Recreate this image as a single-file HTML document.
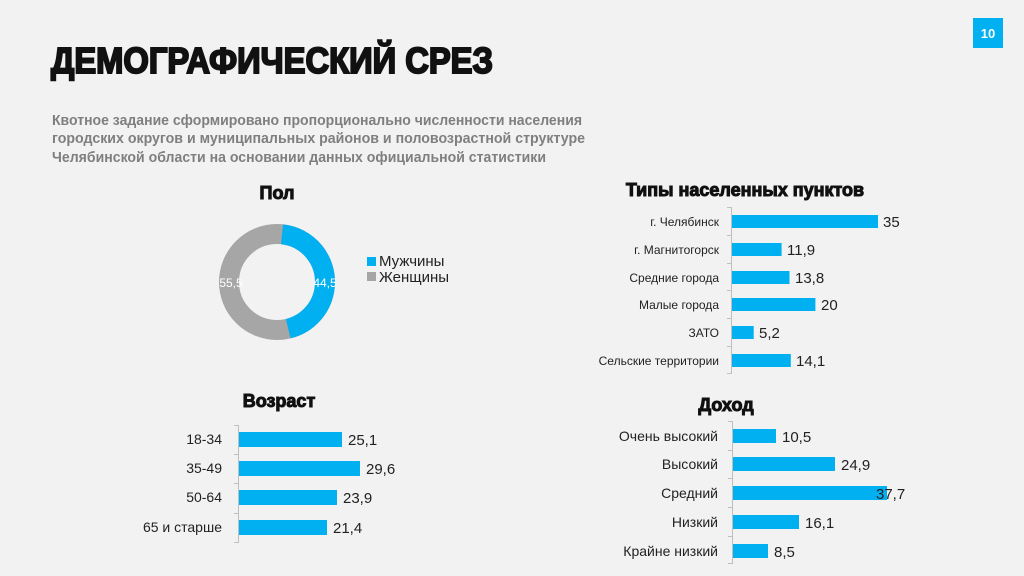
<!DOCTYPE html>
<html><head><meta charset="utf-8"><style>
html,body{margin:0;padding:0;background:#f2f2f2;}
svg{display:block;font-family:"Liberation Sans","DejaVu Sans",sans-serif;}
</style></head><body>
<svg width="1024" height="576" viewBox="0 0 1024 576" xmlns="http://www.w3.org/2000/svg">
<rect width="1024" height="576" fill="#f2f2f2"/>
<rect x="973" y="18" width="30" height="30" fill="#00b0f0"/>
<text x="988" y="38" font-size="13" font-weight="bold" fill="#fff" text-anchor="middle">10</text>
<text x="51" y="73" font-size="36" font-weight="900" fill="#111" stroke="#111" stroke-width="2" textLength="442" lengthAdjust="spacingAndGlyphs">ДЕМОГРАФИЧЕСКИЙ СРЕЗ</text>
<g font-size="15" font-weight="bold" fill="#7f7f7f">
<text x="52" y="125" textLength="530" lengthAdjust="spacingAndGlyphs">Квотное задание сформировано пропорционально численности населения</text>
<text x="52" y="143" textLength="533" lengthAdjust="spacingAndGlyphs">городских округов и муниципальных районов и половозрастной структуре</text>
<text x="52" y="162" textLength="494" lengthAdjust="spacingAndGlyphs">Челябинской области на основании данных официальной статистики</text>
</g>
<g font-size="18" font-weight="900" fill="#111" stroke="#111" stroke-width="1" text-anchor="middle">
<text x="277" y="199">Пол</text>
<text x="745" y="196">Типы населенных пунктов</text>
<text x="279" y="407">Возраст</text>
<text x="726" y="411">Доход</text>
</g>
<!-- donut -->
<circle cx="277" cy="282" r="48" fill="none" stroke="#a6a6a6" stroke-width="20"/>
<circle cx="277" cy="282" r="48" fill="none" stroke="#00b0f0" stroke-width="20" stroke-dasharray="134.2 301.6" transform="rotate(-84 277 282)"/>
<text x="231" y="287" font-size="12" fill="#fff" text-anchor="middle">55,5</text>
<text x="325" y="287" font-size="12" fill="#fff" text-anchor="middle">44,5</text>
<rect x="367" y="257" width="9" height="9" fill="#00b0f0"/>
<rect x="367" y="272" width="9" height="9" fill="#a6a6a6"/>
<text x="379" y="266" font-size="15" fill="#222">Мужчины</text>
<text x="379" y="282" font-size="15" fill="#222">Женщины</text>
<!-- types -->
<g stroke="#bfbfbf">
<line x1="731.5" y1="207" x2="731.5" y2="374"/>
<path d="M727 207.5h5M727 235.5h5M727 263.5h5M727 290.5h5M727 318.5h5M727 346.5h5M727 373.5h5"/>
</g>
<g fill="#00b0f0">
<rect x="732" y="215" width="146" height="13"/>
<rect x="732" y="243" width="49.6" height="13"/>
<rect x="732" y="271" width="57.5" height="13"/>
<rect x="732" y="298" width="83.4" height="13"/>
<rect x="732" y="326" width="21.7" height="13"/>
<rect x="732" y="354" width="58.8" height="13"/>
</g>
<g font-size="12" fill="#222" text-anchor="end">
<text x="719" y="226">г. Челябинск</text>
<text x="719" y="254">г. Магнитогорск</text>
<text x="719" y="282">Средние города</text>
<text x="719" y="309">Малые города</text>
<text x="719" y="337">ЗАТО</text>
<text x="719" y="365">Сельские территории</text>
</g>
<g font-size="15" fill="#222">
<text x="883" y="227">35</text>
<text x="787" y="255">11,9</text>
<text x="795" y="283">13,8</text>
<text x="821" y="310">20</text>
<text x="759" y="338">5,2</text>
<text x="796" y="366">14,1</text>
</g>
<!-- age -->
<g stroke="#bfbfbf">
<line x1="238.5" y1="425" x2="238.5" y2="543"/>
<path d="M234 425.5h5M234 454.5h5M234 483.5h5M234 513.5h5M234 542.5h5"/>
</g>
<g fill="#00b0f0">
<rect x="239" y="432" width="103" height="15"/>
<rect x="239" y="461" width="121" height="15"/>
<rect x="239" y="490" width="98" height="15"/>
<rect x="239" y="520" width="88" height="15"/>
</g>
<g font-size="14" fill="#222" text-anchor="end">
<text x="222" y="444">18-34</text>
<text x="222" y="473">35-49</text>
<text x="222" y="502">50-64</text>
<text x="222" y="532">65 и старше</text>
</g>
<g font-size="15" fill="#222">
<text x="348" y="445">25,1</text>
<text x="366" y="474">29,6</text>
<text x="343" y="503">23,9</text>
<text x="333" y="533">21,4</text>
</g>
<!-- income -->
<g stroke="#bfbfbf">
<line x1="732.5" y1="421" x2="732.5" y2="564"/>
<path d="M728 421.5h5M728 450.5h5M728 478.5h5M728 507.5h5M728 536.5h5M728 563.5h5"/>
</g>
<g fill="#00b0f0">
<rect x="733" y="429" width="43" height="14"/>
<rect x="733" y="457" width="102" height="14"/>
<rect x="733" y="486" width="154" height="14"/>
<rect x="733" y="515" width="66" height="14"/>
<rect x="733" y="544" width="35" height="14"/>
</g>
<g font-size="14" fill="#222" text-anchor="end">
<text x="718" y="441">Очень высокий</text>
<text x="718" y="469">Высокий</text>
<text x="718" y="498">Средний</text>
<text x="718" y="527">Низкий</text>
<text x="718" y="556">Крайне низкий</text>
</g>
<g font-size="15" fill="#222">
<text x="782" y="442">10,5</text>
<text x="841" y="470">24,9</text>
<text x="876" y="499">37,7</text>
<text x="805" y="528">16,1</text>
<text x="774" y="557">8,5</text>
</g>
</svg>
</body></html>
